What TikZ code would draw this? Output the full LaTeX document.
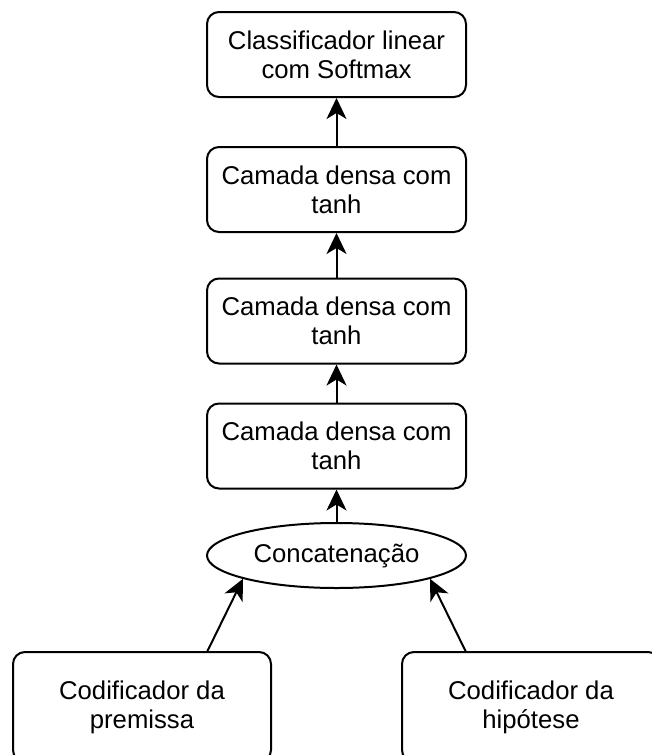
\documentclass[tikz,border=0pt]{standalone}
\usepackage{fontspec}
\setmainfont{Liberation Sans}
\usetikzlibrary{arrows.meta,shapes.geometric}
\begin{document}
\begin{tikzpicture}[x=1pt,y=-1pt,
  every node/.style={font=\fontsize{25.7}{29}\selectfont, align=center, inner sep=0pt},
  block/.style={draw, line width=2pt, rounded corners=12pt, minimum width=259pt, minimum height=85pt},
  encoder/.style={draw, line width=2pt, rounded corners=12pt, minimum width=258pt, minimum height=110pt},
  joiner/.style={draw, ellipse, line width=2pt, minimum width=259pt, minimum height=65pt},
  arr/.style={line width=2pt, -{Stealth[length=21pt,width=20pt,inset=6pt]}}]
  \useasboundingbox (0,0) rectangle (652,755);
  \begin{scope}
    \clip (0,0) rectangle (652,755);
    % stack of layers, bottom to top
    \node[block] (cls) at (336.5,54.5) {Classificador linear\\com Softmax};
    \node[block] (d3) at (336.5,189.5) {Camada densa com\\tanh};
    \node[block] (d2) at (336.5,321) {Camada densa com\\tanh};
    \node[block] (d1) at (336.5,446) {Camada densa com\\tanh};
    \node[joiner] (cat) at (336.5,555.5) {Concatenação};
    % the two sentence encoders
    \node[encoder] (prem) at (142,707) {Codificador da\\premissa};
    \node[encoder] (hyp) at (531,707) {Codificador da\\hipótese};
    \coordinate (premout) at (207,652);
    \coordinate (hypout) at (466,652);
    % connectors
    \draw[arr] (premout) -- (cat.194);
    \draw[arr] (hypout) -- (cat.346);
    \draw[arr] (cat) -- (d1);
    \draw[arr] (d1) -- (d2);
    \draw[arr] (d2) -- (d3);
    \draw[arr] (d3) -- (cls);
  \end{scope}
\end{tikzpicture}
\end{document}
